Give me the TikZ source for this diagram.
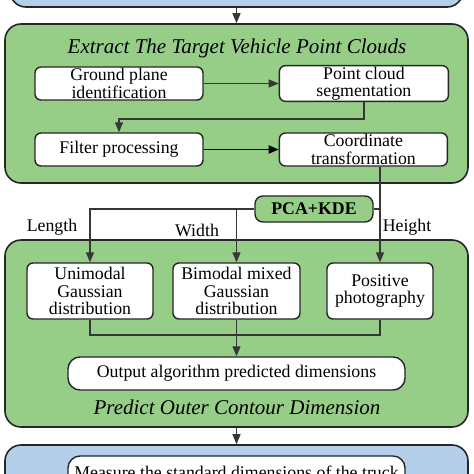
\documentclass[tikz,border=0pt]{standalone}
\usepackage{fontspec}
\setmainfont{Liberation Serif}
\usepackage{xcolor}
\usetikzlibrary{positioning,arrows.meta,backgrounds}

\definecolor{grpgreen}{RGB}{150,206,136}
\definecolor{grpblue}{RGB}{181,206,234}
\definecolor{linegray}{RGB}{55,55,55}

\begin{document}
\begin{tikzpicture}[
  x=1pt, y=1pt,
  font=\fontsize{17.8}{17.5}\selectfont,
  box/.style={draw=black!85, line width=1.4pt, rounded corners=6pt, fill=white, align=center, inner sep=1pt},
  grp/.style={draw=black!85, line width=1.6pt, rounded corners=16pt, fill=grpgreen, minimum width=463pt},
  bgrp/.style={grp, fill=grpblue},
  ttl/.style={font=\fontsize{21}{22}\selectfont\itshape},
  arr/.style={-{Triangle[length=10pt,width=8pt]}, line width=1.3pt, linegray},
  lnk/.style={line width=1.3pt, linegray},
]
\useasboundingbox (0,0) rectangle (474,-474);
\clip (0,0) rectangle (474,-474);
% group boxes
\node[bgrp, minimum width=453pt, minimum height=47pt] (input) at (236.5,16.5) {};
\node[grp, minimum height=159pt] (extract) at (236.5,-103.5) {};
\node[grp, minimum height=187pt] (predict) at (236.5,-333.5) {};
\node[bgrp, minimum height=65pt] (verify) at (236.5,-477.5) {};
\node[ttl] (extrttl) at (237,-48) {Extract The Target Vehicle Point Clouds};
\node[ttl] (predttl) at (237,-407) {Predict Outer Contour Dimension};
% extraction steps
\node[box, minimum width=168pt, minimum height=33pt] (gnd) at (119,-83.5) {Ground plane\\identification};
\node[box, minimum width=169pt, minimum height=33pt, right=75pt of gnd] (seg) {Point cloud\\segmentation};
\node[box, minimum width=168pt, minimum height=33pt] (filt) at (119,-149.5) {Filter processing};
\node[box, minimum width=168pt, minimum height=33pt, right=75pt of filt] (coord) {Coordinate\\transformation};
\node[box, fill=grpgreen, rounded corners=8pt, minimum width=118pt, minimum height=26pt, font=\fontsize{17.8}{17.5}\selectfont\bfseries] (pca) at (314,-209) {PCA+KDE};
% dimension estimation
\node[box, minimum width=126pt, minimum height=56pt] (uni) at (90,-291) {Unimodal\\Gaussian\\distribution};
\node[box, minimum width=127pt, minimum height=56pt] (bim) at (236.5,-291) {Bimodal mixed\\Gaussian\\distribution};
\node[box, minimum width=106pt, minimum height=56pt] (photo) at (380,-291) {Positive\\photography};
\node[box, rounded corners=12pt, minimum width=337pt, minimum height=33pt] (outdim) at (236.5,-373.5) {Output algorithm predicted dimensions};
\node[box, rounded corners=12pt, minimum width=337pt, minimum height=33pt] (meas) at (236.5,-472.5) {Measure the standard dimensions of the truck};
\node (lenlbl) at (52,-227) {Length};
\node (widlbl) at (197,-230) {Width};
\node (hgtlbl) at (407,-227) {Height};
\coordinate (join) at (236.5,-335);
% connectors
\draw[arr] (input.south -| extract.north) -- (extract.north);
\draw[arr] (gnd) -- (seg);
\draw[arr] (seg.south) -- ++(0,-17) -| (filt.north);
\draw[arr, line width=1.7pt, black] (filt) -- (coord);
\draw[arr] (coord.south -| photo.north) -- (photo.north);
\draw[lnk] (pca.east) -- (pca.east -| photo.north);
\draw[arr] (pca.west) -| (uni.north);
\draw[arr] (pca.west -| bim.north) -- (bim.north);
\draw[lnk] (uni.south) |- (join) -| (photo.south);
\draw[lnk] (bim.south) -- (join);
\draw[arr] (join) -- (outdim.north);
\draw[arr] (predict.south) -- (verify.north);
\end{tikzpicture}
\end{document}
